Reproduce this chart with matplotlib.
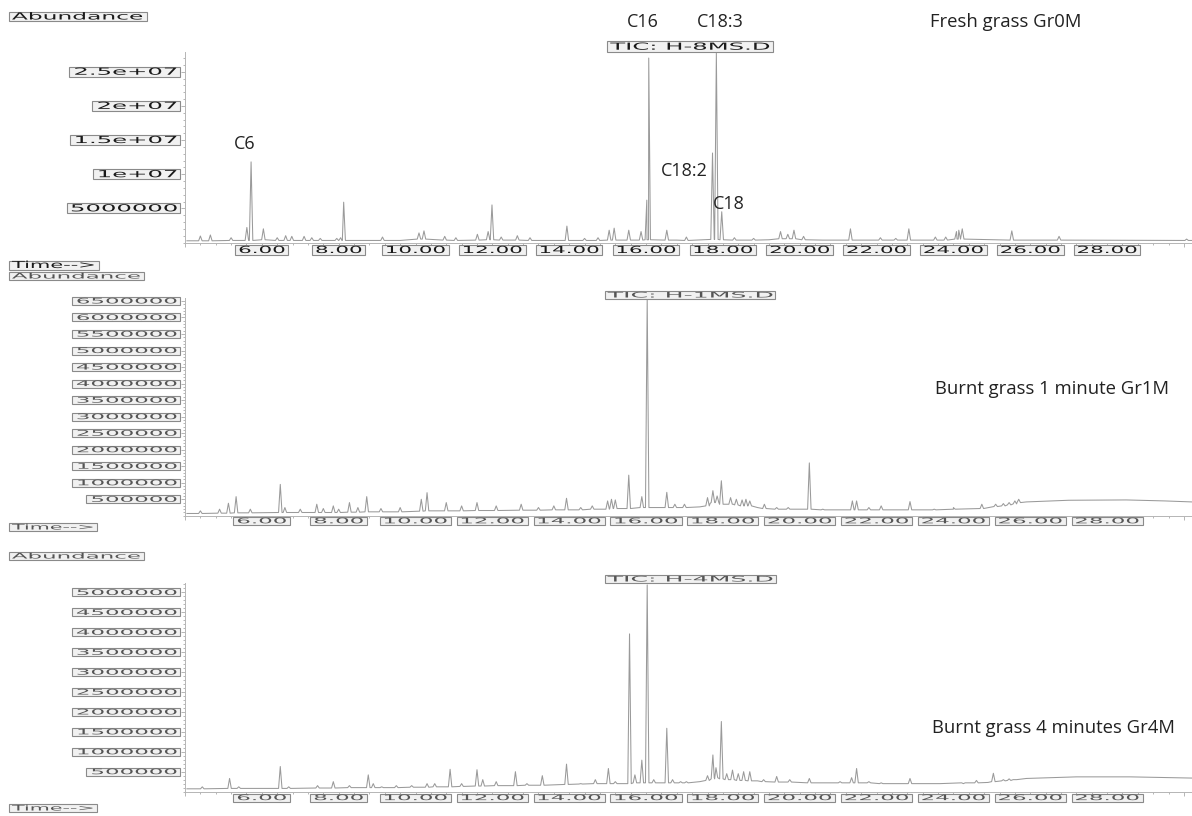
import numpy as np
import matplotlib
matplotlib.use('Agg')
import matplotlib.pyplot as plt
from matplotlib import patheffects
from matplotlib.patches import Rectangle
from matplotlib.ticker import MultipleLocator
from matplotlib.transforms import Affine2D, IdentityTransform, offset_copy

W, H = 1192, 816  # output size in pixels (dpi 100)

# ---- chromatogram data, abundance in millions, time in minutes ----
# baseline knots (t, level)
fresh_base = [(4.05, 0.25), (9.6, 0.3), (14.1, 0.3), (16.8, 0.35), (19.2, 0.4),
              (20.6, 0.35), (26.2, 0.35), (29.0, 0.32), (30.2, 0.3)]
# peaks (retention time, apex, foot level)
fresh_peaks = [
    (4.40, 0.95, 0.25), (4.66, 1.1, 0.25), (5.20, 0.7, 0.3), (5.61, 2.2, 0.3), (5.72, 11.8, 0.3),
    (6.04, 2.0, 0.4), (6.40, 0.7, 0.3), (6.62, 1.0, 0.3), (6.78, 0.9, 0.3), (7.10, 0.9, 0.3),
    (7.30, 0.7, 0.3), (7.52, 0.6, 0.3), (7.95, 0.6, 0.3), (8.05, 0.7, 0.3), (8.13, 5.9, 0.3),
    (9.14, 0.8, 0.3), (10.09, 1.4, 0.5), (10.22, 1.7, 0.5), (10.76, 0.9, 0.35), (11.05, 0.7, 0.3),
    (11.61, 1.2, 0.35), (11.89, 1.6, 0.4), (11.99, 5.5, 0.4), (12.23, 0.8, 0.35), (12.65, 1.0, 0.35),
    (12.98, 0.7, 0.3), (13.94, 2.4, 0.3), (14.40, 0.6, 0.3), (14.75, 0.7, 0.3), (15.04, 1.8, 0.35),
    (15.17, 2.1, 0.35), (15.55, 1.8, 0.35), (15.87, 1.6, 0.35), (16.02, 6.2, 0.4), (16.07, 27.0, 0.4),
    (16.54, 1.8, 0.35), (17.05, 0.8, 0.3), (17.73, 13.1, 0.45), (17.83, 27.7, 0.45), (17.97, 4.5, 0.4),
    (18.30, 0.7, 0.35), (18.80, 0.6, 0.35), (19.50, 1.6, 0.55), (19.69, 1.2, 0.55), (19.85, 1.8, 0.55),
    (20.10, 0.9, 0.4), (21.32, 2.0, 0.35), (22.10, 0.7, 0.35), (22.50, 0.6, 0.35), (22.84, 2.0, 0.35),
    (23.53, 0.8, 0.35), (23.80, 0.8, 0.35), (24.08, 1.6, 0.5), (24.14, 1.8, 0.5), (24.23, 2.0, 0.5),
    (25.52, 1.7, 0.35), (26.75, 0.9, 0.35), (30.07, 0.5, 0.3),
]

gr1m_base = [(4.05, 0.07), (9.0, 0.12), (13.0, 0.17), (15.3, 0.22), (17.4, 0.27), (17.67, 0.38),
             (18.27, 0.35), (18.9, 0.25), (20.0, 0.2), (22.0, 0.18), (24.0, 0.2), (25.0, 0.27),
             (25.9, 0.42), (27.0, 0.47), (28.5, 0.48), (29.5, 0.45), (30.2, 0.42)]
gr1m_peaks = [
    (4.40, 0.15, 0.07), (4.90, 0.20, 0.08), (5.13, 0.38, 0.08), (5.33, 0.58, 0.09), (5.70, 0.20, 0.09),
    (6.48, 0.95, 0.10), (6.60, 0.25, 0.10), (7.00, 0.20, 0.10), (7.43, 0.35, 0.10), (7.60, 0.22, 0.10),
    (7.86, 0.30, 0.10), (8.00, 0.20, 0.10), (8.28, 0.40, 0.11), (8.50, 0.25, 0.11), (8.73, 0.58, 0.12),
    (9.10, 0.22, 0.12), (9.60, 0.25, 0.12), (10.15, 0.50, 0.14), (10.30, 0.70, 0.15), (10.80, 0.40, 0.15),
    (11.20, 0.30, 0.15), (11.60, 0.40, 0.16), (12.10, 0.30, 0.16), (12.75, 0.35, 0.17), (13.20, 0.25, 0.17),
    (13.60, 0.30, 0.18), (13.93, 0.53, 0.18), (14.30, 0.25, 0.18), (14.60, 0.30, 0.20), (15.00, 0.45, 0.20),
    (15.10, 0.50, 0.22), (15.20, 0.48, 0.22), (15.55, 1.23, 0.22), (15.89, 0.58, 0.25), (16.03, 6.55, 0.25),
    (16.54, 0.71, 0.25), (16.75, 0.35, 0.25), (17.00, 0.35, 0.25), (17.60, 0.55, 0.30), (17.74, 0.76, 0.40),
    (17.85, 0.60, 0.40), (17.96, 1.06, 0.35), (18.20, 0.55, 0.35), (18.35, 0.50, 0.33), (18.50, 0.48, 0.30),
    (18.60, 0.50, 0.30), (18.70, 0.45, 0.30), (19.08, 0.35, 0.22), (19.40, 0.25, 0.20), (19.70, 0.25, 0.20),
    (20.25, 1.60, 0.20), (20.60, 0.20, 0.18), (21.37, 0.45, 0.18), (21.48, 0.45, 0.18), (21.80, 0.25, 0.18),
    (22.12, 0.30, 0.18), (22.87, 0.43, 0.18), (23.50, 0.20, 0.18), (24.00, 0.25, 0.20), (24.74, 0.35, 0.22),
    (25.10, 0.35, 0.28), (25.30, 0.37, 0.30), (25.45, 0.40, 0.33), (25.60, 0.45, 0.36), (25.70, 0.50, 0.40),
]

gr4m_base = [(4.05, 0.07), (9.3, 0.1), (13.6, 0.17), (15.4, 0.2), (17.4, 0.25), (18.9, 0.27),
             (20.6, 0.22), (23.2, 0.2), (24.9, 0.23), (25.9, 0.33), (27.2, 0.37), (28.6, 0.37),
             (30.2, 0.34)]
gr4m_peaks = [
    (4.45, 0.12, 0.07), (5.16, 0.33, 0.08), (5.40, 0.12, 0.08), (6.48, 0.63, 0.08), (6.70, 0.12, 0.08),
    (7.45, 0.15, 0.09), (7.86, 0.25, 0.09), (8.28, 0.15, 0.10), (8.77, 0.42, 0.10), (8.90, 0.20, 0.10),
    (9.12, 0.12, 0.10), (9.50, 0.15, 0.10), (9.90, 0.15, 0.11), (10.30, 0.20, 0.11), (10.50, 0.20, 0.12),
    (10.90, 0.56, 0.12), (11.20, 0.20, 0.13), (11.60, 0.55, 0.14), (11.75, 0.30, 0.14), (12.10, 0.25, 0.15),
    (12.60, 0.50, 0.15), (12.90, 0.20, 0.16), (13.30, 0.40, 0.16), (13.93, 0.69, 0.18), (14.30, 0.20, 0.19),
    (14.68, 0.30, 0.20), (15.02, 0.58, 0.20), (15.20, 0.25, 0.20), (15.57, 3.96, 0.20), (15.71, 0.42, 0.22),
    (15.89, 0.79, 0.22), (16.03, 5.19, 0.22), (16.20, 0.30, 0.22), (16.54, 1.59, 0.22), (16.69, 0.30, 0.22),
    (16.90, 0.25, 0.22), (17.05, 0.25, 0.22), (17.60, 0.40, 0.28), (17.74, 0.92, 0.32), (17.82, 0.60, 0.35),
    (17.96, 1.76, 0.32), (18.10, 0.45, 0.30), (18.25, 0.54, 0.30), (18.40, 0.45, 0.28), (18.54, 0.50, 0.28),
    (18.70, 0.50, 0.27), (19.06, 0.30, 0.25), (19.40, 0.38, 0.24), (19.74, 0.30, 0.24), (20.25, 0.33, 0.22),
    (21.05, 0.25, 0.22), (21.35, 0.35, 0.22), (21.48, 0.58, 0.22), (21.80, 0.25, 0.22), (22.12, 0.22, 0.20),
    (22.50, 0.20, 0.20), (22.87, 0.33, 0.20), (23.60, 0.20, 0.20), (24.26, 0.20, 0.22), (24.60, 0.28, 0.22),
    (25.04, 0.46, 0.25), (25.30, 0.30, 0.27), (25.45, 0.32, 0.28), (25.60, 0.30, 0.30),
]

time_ticks = [4, 6, 8, 10, 12, 14, 16, 18, 20, 22, 24, 26, 28, 30]
time_labels = ['', '6.00', '8.00', '10.00', '12.00', '14.00', '16.00', '18.00', '20.00',
               '22.00', '24.00', '26.00', '28.00', '']

fresh_yticks = [5, 10, 15, 20, 25]
fresh_ylabels = ['5000000', '1e+07', '1.5e+07', '2e+07', '2.5e+07']
gr1m_yticks = [0.5 * k for k in range(1, 14)]
gr1m_ylabels = [str(500000 * k) for k in range(1, 14)]
gr4m_yticks = [0.5 * k for k in range(1, 11)]
gr4m_ylabels = [str(500000 * k) for k in range(1, 11)]

fresh_marks = [('C6', 5.56, 14.4), ('C16', 15.92, 32.3), ('C18:3', 17.92, 32.3),
               ('C18:2', 16.99, 10.4), ('C18', 18.16, 5.6)]

HALF_WIDTH = 0.045  # peak half width at the foot, minutes


class Widen(patheffects.AbstractPathEffect):
    """Stretch glyphs sideways around one edge (or the middle) of the string."""

    def __init__(self, sx, anchor='center'):
        super().__init__()
        self.sx = sx
        self.anchor = anchor

    def draw_path(self, renderer, gc, tpath, affine, rgbFace=None):
        bb = tpath.get_extents(affine)
        x0 = {'left': bb.x0, 'right': bb.x1, 'center': 0.5 * (bb.x0 + bb.x1)}[self.anchor]
        stretch = Affine2D().translate(-x0, 0).scale(self.sx, 1).translate(x0, 0)
        renderer.draw_path(gc, tpath, affine + stretch, rgbFace)


def trace(base, peaks):
    pts = list(base)
    for t, top, foot in peaks:
        pts += [(t - HALF_WIDTH, foot), (t, top), (t + HALF_WIDTH, foot)]
    pts.sort(key=lambda p: p[0])
    return np.array(pts).T


fig = plt.figure(figsize=(W / 100, H / 100), dpi=100)
boxed = []


def chem_text(x, y, s, transform, size, sx, anchor, boxh, color):
    if transform is None:
        transform = fig.transFigure
    t = fig.text(x, y, s, transform=transform, ha=anchor, va='center', fontsize=size,
                 family='DejaVu Sans', color=color, path_effects=[Widen(sx, anchor)], zorder=4)
    boxed.append((t, sx, anchor, boxh))
    return t


# (top px, bottom px, ymax, base, peaks, yticks, ylabels, label style, x-label drop, minor y step)
panels = [
    (51.7, 242.5, 27.93, fresh_base, fresh_peaks, fresh_yticks, fresh_ylabels, 'big', 7.5, 1.0),
    (298.3, 515.8, 6.58, gr1m_base, gr1m_peaks, gr1m_yticks, gr1m_ylabels, 'small', 5.0, 0.1),
    (583.3, 791.6, 5.23, gr4m_base, gr4m_peaks, gr4m_yticks, gr4m_ylabels, 'small', 6.0, 0.1),
]
styles = {'big': dict(size=7, sx=2.2, ysx=2.5, boxh=10, color='#1a1a1a'),
          'small': dict(size=5.5, sx=3.0, ysx=3.0, boxh=8, color='#555555')}

axes = []
for top, bottom, ymax, base, peaks, yticks, ylabels, st, drop, ystep in panels:
    ax = fig.add_axes([185 / W, 1 - bottom / H, (W - 185) / W, (bottom - top) / H])
    ax.set_facecolor('none')
    t, y = trace(base, peaks)
    ax.plot(t, y, color='#9a9a9a', lw=0.75)
    ax.set_xlim(4.05, 30.21)
    ax.set_ylim(0, ymax)
    for side in ('top', 'right'):
        ax.spines[side].set_visible(False)
    for side in ('left', 'bottom'):
        ax.spines[side].set_color('#b5b5b5')
        ax.spines[side].set_linewidth(0.7)
    ax.set_xticks(time_ticks)
    ax.xaxis.set_minor_locator(MultipleLocator(0.4))
    ax.set_yticks(yticks)
    ax.yaxis.set_minor_locator(MultipleLocator(ystep))
    ax.tick_params(which='both', direction='out', colors='#aaaaaa', width=0.6,
                   labelbottom=False, labelleft=False)
    ax.tick_params(which='major', length=3)
    ax.tick_params(which='minor', length=1.5)

    s = styles[st]
    ytrans = offset_copy(ax.get_yaxis_transform(), fig=fig, x=-8, y=0, units='dots')
    for v, lab in zip(yticks, ylabels):
        chem_text(0, v, lab, ytrans, s['size'], s['ysx'], 'right', s['boxh'], s['color'])
    xtrans = offset_copy(ax.get_xaxis_transform(), fig=fig, x=0, y=-drop, units='dots')
    for v, lab in zip(time_ticks, time_labels):
        if lab:
            chem_text(v, 0, lab, xtrans, s['size'], s['sx'], 'center', s['boxh'], s['color'])
    axes.append(ax)

# header / footer tags and data file names
chem_text(12 / W, 1 - 16.5 / H, 'Abundance', None, 7, 2.4, 'left', 9, '#1a1a1a')
chem_text(12 / W, 1 - 265 / H, 'Time-->', None, 7, 2.15, 'left', 9, '#1a1a1a')
chem_text(690 / W, 1 - 46.7 / H, 'TIC: H-8MS.D', None, 7, 2.5, 'center', 11, '#1a1a1a')
chem_text(12 / W, 1 - 276 / H, 'Abundance', None, 5.5, 3.0, 'left', 8, '#555555')
chem_text(12 / W, 1 - 527 / H, 'Time-->', None, 5.5, 2.7, 'left', 8, '#555555')
chem_text(690 / W, 1 - 295 / H, 'TIC: H-1MS.D', None, 5.5, 3.3, 'center', 8, '#555555')
chem_text(12 / W, 1 - 556 / H, 'Abundance', None, 5.5, 3.0, 'left', 8, '#555555')
chem_text(12 / W, 1 - 808 / H, 'Time-->', None, 5.5, 2.7, 'left', 8, '#555555')
chem_text(690 / W, 1 - 579 / H, 'TIC: H-4MS.D', None, 5.5, 3.3, 'center', 8, '#555555')

# peak names on the fresh sample
for name, t, y in fresh_marks:
    axes[0].text(t, y, name, ha='center', va='center', fontsize=13, family='Open Sans',
                 color='#222222', clip_on=False)

fig.text(930 / W, 1 - 22 / H, 'Fresh grass Gr0M', ha='left', va='center', fontsize=13.3,
         family='Open Sans', color='#222222')
fig.text(935 / W, 1 - 389 / H, 'Burnt grass 1 minute Gr1M', ha='left', va='center',
         fontsize=13.3, family='Open Sans', color='#222222')
fig.text(932 / W, 1 - 728 / H, 'Burnt grass 4 minutes Gr4M', ha='left', va='center',
         fontsize=13.3, family='Open Sans', color='#222222')

# boxes behind the widened labels
fig.canvas.draw()
renderer = fig.canvas.get_renderer()
for t, sx, anchor, boxh in boxed:
    bb = t.get_window_extent(renderer)
    w = bb.width * sx
    if anchor == 'right':
        x0 = bb.x1 - w
    elif anchor == 'left':
        x0 = bb.x0
    else:
        x0 = 0.5 * (bb.x0 + bb.x1) - w / 2
    yc = 0.5 * (bb.y0 + bb.y1)
    fig.add_artist(Rectangle((x0 - 3, yc - boxh / 2), w + 6, boxh, transform=IdentityTransform(),
                             facecolor='#f1f1f1', edgecolor='#8a8a8a', lw=0.8, zorder=1))

fig.savefig('out.png', dpi=100)
